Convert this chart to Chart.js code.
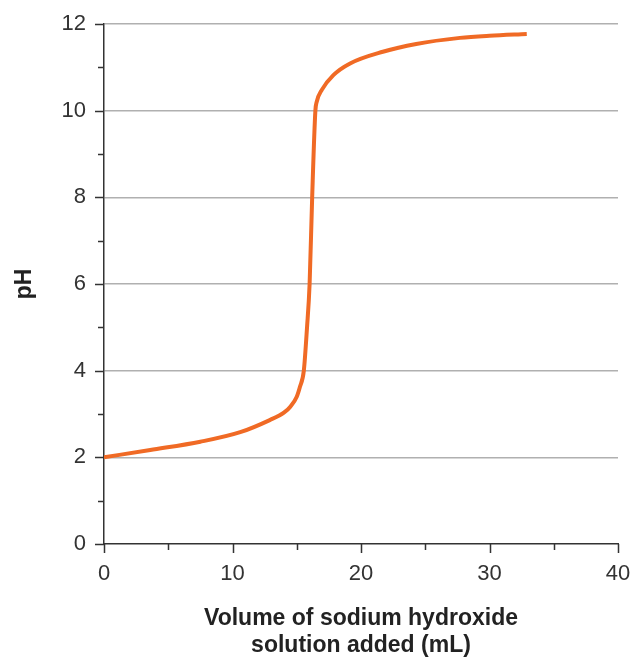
<!DOCTYPE html>
<html>
<head>
<meta charset="utf-8">
<script src="https://cdn.jsdelivr.net/npm/chart.js@4"></script>
<style>
  html, body { margin: 0; padding: 0; background: #fff; }
  #wrap { width: 632px; height: 659px; position: relative; }
</style>
</head>
<body>
<div id="wrap"><canvas id="titration"></canvas></div>
<script>
// titration curve
var volumeAdded = [0, 3.6, 7.5, 10.6, 12.9, 14.0, 14.5, 15.0, 15.25, 15.55, 15.8, 16.0, 16.2, 16.45, 16.55, 16.95, 17.85, 19.15, 21.7, 24.3, 27.7, 30.0, 32.9];
var phValues = [2.0, 2.17, 2.36, 2.58, 2.86, 3.03, 3.17, 3.40, 3.63, 4.0, 5.0, 6.0, 8.0, 10.0, 10.2, 10.48, 10.82, 11.09, 11.36, 11.54, 11.68, 11.73, 11.77];

var xTitle = ['Volume of sodium hydroxide', 'solution added (mL)'];
var yTitle = 'pH';

var points = volumeAdded.map(function (v, i) {
    return { x: v, y: phValues[i] };
});

// tick marks (major + minor) drawn with the scales' own pixel mapping
var tickMarks = {
    id: 'tickMarks',
    afterDraw: function (chart) {
        var c = chart.ctx;
        var xs = chart.scales.x, ys = chart.scales.y;
        c.save();
        c.strokeStyle = '#333';
        c.lineWidth = 1.5;
        c.beginPath();
        for (var v = 0; v <= 12; v++) {
            var py = Math.round(ys.getPixelForValue(v)) + 0.5;
            var len = v % 2 === 0 ? 9 : 6;
            c.moveTo(ys.right - len, py);
            c.lineTo(ys.right, py);
        }
        for (var w = 0; w <= 40; w += 5) {
            var px = Math.round(xs.getPixelForValue(w)) + 0.5;
            var len2 = w % 10 === 0 ? 9 : 6;
            c.moveTo(px, xs.top);
            c.lineTo(px, xs.top + len2);
        }
        c.stroke();
        c.restore();
    }
};

var tickFont = { family: '"Liberation Sans", Arial, sans-serif', size: 22 };
var titleFont = { family: '"Liberation Sans", Arial, sans-serif', size: 23, weight: 'bold', lineHeight: 1.174 };

var ctx = document.getElementById('titration').getContext('2d');
var chart = new Chart(ctx, {
    type: 'line',
    data: {
        datasets: [{
            data: points,
            borderColor: '#f06a25',
            borderWidth: 4,
            pointRadius: 0,
            fill: false,
            cubicInterpolationMode: 'monotone'
        }]
    },
    options: {
        responsive: true,
        maintainAspectRatio: false,
        animation: false,
        layout: { padding: { top: 24, right: 0, left: 0, bottom: 0 } },
        plugins: {
            legend: { display: false },
            tooltip: { enabled: false }
        },
        scales: {
            x: {
                type: 'linear',
                min: 0,
                max: 40,
                afterFit: function (scale) {
                    scale.height = 115;
                    scale.paddingRight = 14;
                    scale.paddingLeft = 0;
                },
                border: { color: '#333', width: 1.5 },
                grid: { drawOnChartArea: false, tickLength: 9, color: 'transparent', tickColor: 'transparent' },
                ticks: {
                    stepSize: 5,
                    autoSkip: false,
                    maxRotation: 0,
                    padding: 8,
                    color: '#333',
                    font: tickFont,
                    callback: function (v) { return v % 10 === 0 ? v : ''; }
                },
                title: {
                    display: true,
                    text: xTitle,
                    color: '#222',
                    padding: { top: 0, bottom: 0 },
                    font: titleFont
                }
            },
            y: {
                min: 0,
                max: 12,
                afterFit: function (scale) { scale.width = 104; },
                border: { color: '#333', width: 1.5 },
                grid: {
                    tickLength: 9,
                    tickColor: 'transparent',
                    lineWidth: 1.5,
                    color: function (c) {
                        var v = c.tick ? c.tick.value : 0;
                        return (v % 2 === 0 && v !== 0) ? '#b0b0b0' : 'transparent';
                    }
                },
                ticks: {
                    stepSize: 1,
                    autoSkip: false,
                    padding: 9,
                    color: '#333',
                    font: tickFont,
                    callback: function (v) { return v % 2 === 0 ? v : ''; }
                },
                title: {
                    display: true,
                    text: yTitle,
                    color: '#222',
                    padding: { top: 11, bottom: 0 },
                    font: { family: '"Liberation Sans", Arial, sans-serif', size: 23, weight: 'bold' }
                }
            }
        }
    },
    plugins: [tickMarks]
});
</script>
</body>
</html>
